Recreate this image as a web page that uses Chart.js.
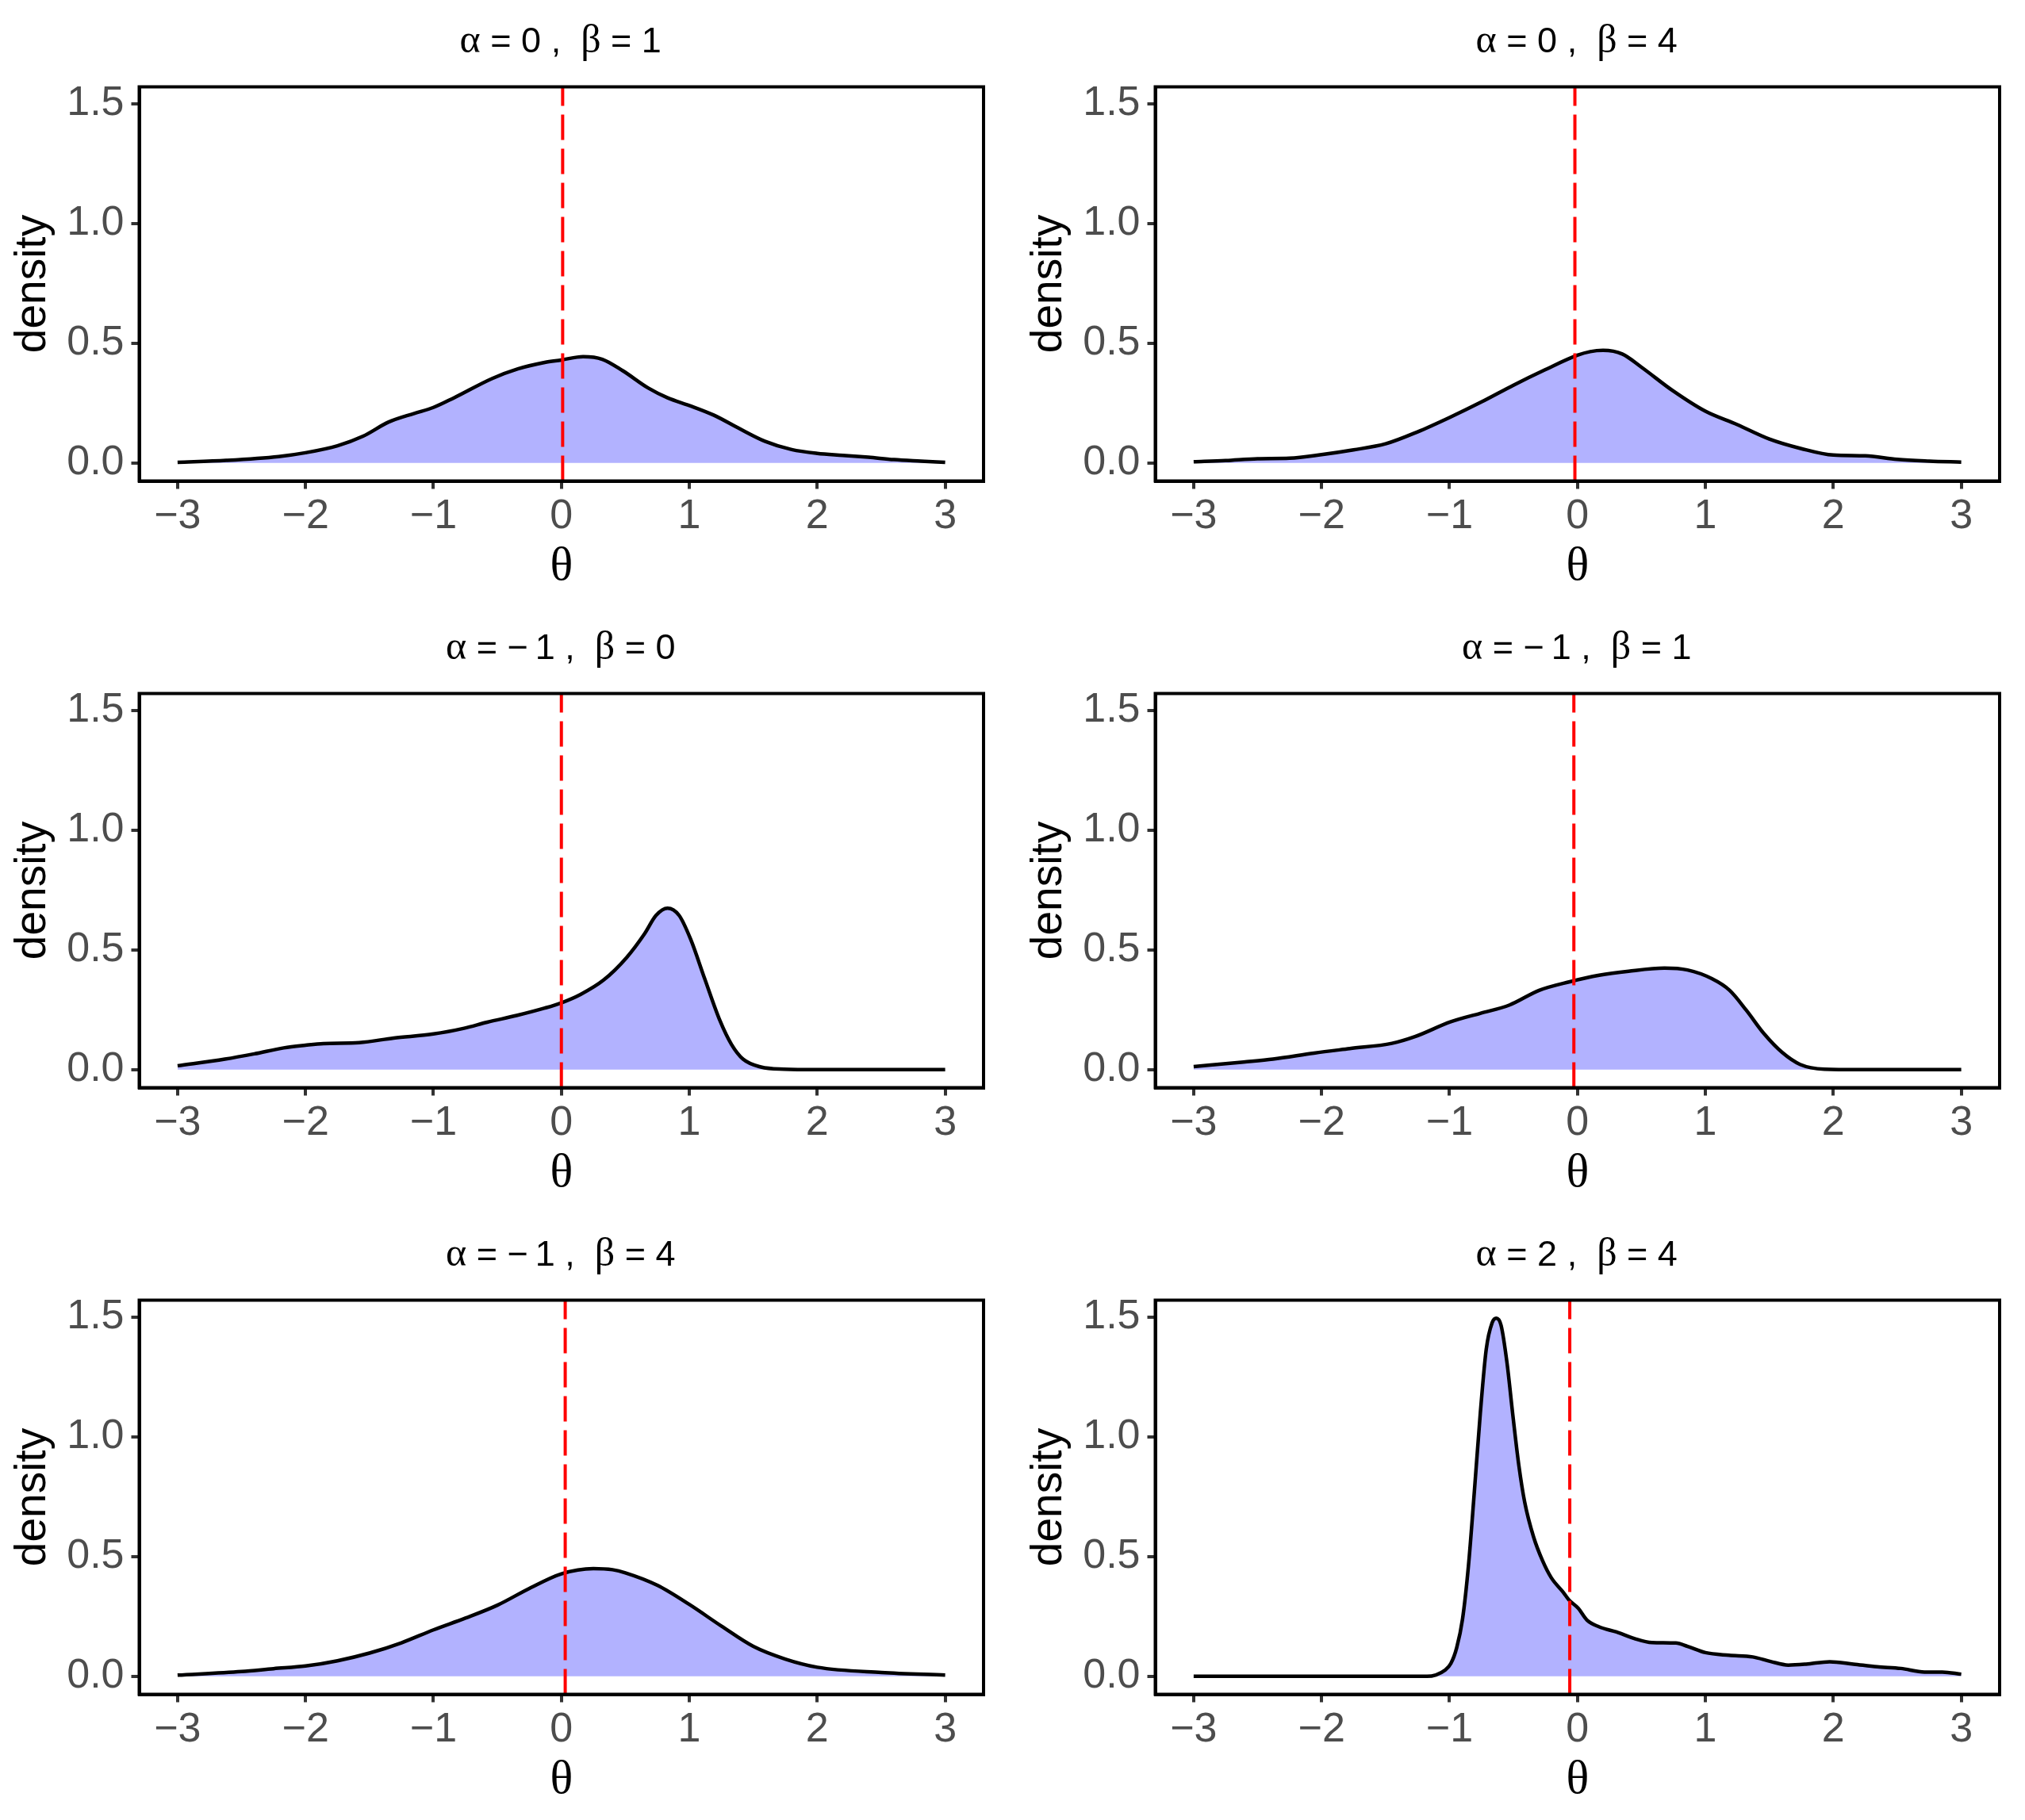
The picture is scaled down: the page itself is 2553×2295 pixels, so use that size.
<!DOCTYPE html>
<html><head><meta charset="utf-8">
<script src="https://cdn.jsdelivr.net/npm/chart.js@4.4.1/dist/chart.umd.min.js"></script>
<style>
html,body{margin:0;padding:0;background:#fff;}
body{width:2553px;height:2295px;position:relative;overflow:hidden;}
.cell{position:absolute;width:1272px;height:765px;}
</style></head><body>
<script>
// ---- tick values / labels ----
const xTicks = [-3, -2, -1, 0, 1, 2, 3];
const xTickLabels = ['\u22123', '\u22122', '\u22121', '0', '1', '2', '3'];
const yTicks = [0, 0.5, 1, 1.5];
const yTickLabels = ['0.0', '0.5', '1.0', '1.5'];

// ---- panel parameters ----
const alphaValues = [0, 0, -1, -1, -1, 2];
const betaValues  = [1, 4, 0, 1, 4, 4];
const meanTheta   = [0.01, -0.02, 0.0, -0.028, 0.03, -0.06];

// ---- density curves ----
const theta1 = [-3,-2.62,-2.21,-2.0,-1.75,-1.55,-1.35,-1.15,-1.0,-0.84,-0.54,-0.34,-0.13,0,0.17,0.32,0.48,0.68,0.83,1.0,1.19,1.39,1.59,1.8,2.0,2.2,2.4,2.6,2.81,3];
const density1 = [0.003,0.011,0.027,0.043,0.072,0.112,0.171,0.207,0.232,0.272,0.353,0.393,0.42,0.43,0.444,0.433,0.385,0.3125,0.272,0.24,0.2,0.144,0.091,0.056,0.04,0.032,0.024,0.014,0.008,0.003];

const theta2 = [-3,-2.75,-2.5,-2.25,-2,-1.75,-1.5,-1.25,-1,-0.75,-0.5,-0.25,0,0.1,0.2,0.35,0.5,0.75,1,1.25,1.5,1.75,2,2.25,2.5,2.75,3];
const density2 = [0.005,0.01,0.018,0.02,0.035,0.055,0.08,0.13,0.19,0.255,0.325,0.39,0.45,0.465,0.47,0.455,0.40,0.30,0.216,0.16,0.10,0.06,0.033,0.03,0.015,0.008,0.004];

const theta3 = [-3,-2.63,-2.40,-2.17,-2.0,-1.86,-1.58,-1.31,-1.0,-0.76,-0.58,-0.35,-0.13,0,0.15,0.33,0.51,0.65,0.74,0.83,0.92,1.01,1.12,1.24,1.33,1.42,1.56,1.74,2,2.5,3];
const density3 = [0.0165,0.044,0.066,0.091,0.102,0.109,0.113,0.132,0.149,0.173,0.198,0.226,0.257,0.279,0.314,0.374,0.468,0.567,0.644,0.674,0.644,0.545,0.38,0.204,0.105,0.044,0.011,0.002,0,0,0];

const theta4 = [-3,-2.61,-2.38,-2.06,-1.78,-1.45,-1.27,-0.99,-0.76,-0.53,-0.30,-0.06,0.17,0.40,0.68,0.86,1.05,1.19,1.32,1.46,1.60,1.74,1.93,2.2,2.6,3];
const density4 = [0.013,0.032,0.044,0.069,0.088,0.110,0.138,0.2,0.235,0.27,0.331,0.367,0.394,0.411,0.424,0.416,0.38,0.331,0.248,0.149,0.072,0.022,0.002,0,0,0];

const theta5 = [-3,-2.5,-2.25,-2,-1.75,-1.5,-1.25,-1,-0.75,-0.5,-0.25,0,0.25,0.4,0.5,0.75,1,1.25,1.5,1.75,2,2.5,3];
const density5 = [0.005,0.02,0.032,0.043,0.065,0.097,0.14,0.194,0.243,0.297,0.367,0.428,0.45,0.445,0.432,0.38,0.3,0.21,0.125,0.072,0.038,0.016,0.005];

const theta6 = [-3,-2,-1.3,-1.176,-1.106,-1.037,-0.99,-0.944,-0.898,-0.852,-0.806,-0.759,-0.713,-0.667,-0.634,-0.597,-0.551,-0.505,-0.458,-0.412,-0.343,-0.273,-0.204,-0.111,-0.065,0.005,0.074,0.167,0.306,0.444,0.583,0.769,0.861,1.0,1.185,1.37,1.51,1.648,1.787,1.972,2.157,2.343,2.528,2.713,2.852,3];
const density6 = [0,0,0,0,0.006,0.025,0.053,0.119,0.24,0.461,0.77,1.10,1.365,1.476,1.495,1.465,1.31,1.09,0.88,0.726,0.582,0.483,0.411,0.351,0.318,0.285,0.235,0.207,0.185,0.158,0.141,0.139,0.125,0.099,0.088,0.081,0.062,0.047,0.051,0.061,0.051,0.040,0.033,0.018,0.018,0.009];

const thetaSets = [theta1, theta2, theta3, theta4, theta5, theta6];
const densitySets = [density1, density2, density3, density4, density5, density6];

// ---- fonts / styling ----
const SANS = '"Liberation Sans", Arial, sans-serif';
const SERIF = '"Liberation Serif", "Times New Roman", serif';
const Y_MIN = -0.075, Y_MAX = 1.57;
const X_MIN = -3.3, X_MAX = 3.3;

function fmtNum(v) {
  return v < 0 ? '\u2212\u2009' + Math.abs(v) : String(v);
}

const panelTitlePlugin = {
  id: 'panelTitle',
  afterDraw(chart, args, opts) {
    const ctx = chart.ctx;
    const segs = opts.segments || [];
    ctx.save();
    ctx.fillStyle = '#000';
    ctx.textBaseline = 'alphabetic';
    ctx.textAlign = 'left';
    let total = 0;
    const widths = segs.map(s => {
      ctx.font = s.font;
      const w = ctx.measureText(s.text).width;
      total += w;
      return w;
    });
    const ca = chart.chartArea;
    let x = (ca.left + ca.right) / 2 - 1 - total / 2;
    segs.forEach((s, i) => {
      ctx.font = s.font;
      ctx.fillText(s.text, x, opts.baseline);
      x += widths[i];
    });
    ctx.restore();
  }
};

const frameBoxPlugin = {
  id: 'frameBox',
  afterDraw(chart) {
    const {ctx, chartArea: ca} = chart;
    ctx.save();
    ctx.strokeStyle = '#000';
    ctx.lineWidth = 4;
    ctx.strokeRect(ca.left, ca.top, ca.right - ca.left, ca.bottom - ca.top);
    ctx.restore();
  }
};

function makePanel(i) {
  const div = document.createElement('div');
  div.className = 'cell';
  div.style.left = (i % 2 ? 1281 : 0) + 'px';
  div.style.top = (Math.floor(i / 2) * 765) + 'px';
  const canvas = document.createElement('canvas');
  div.appendChild(canvas);
  document.body.appendChild(div);

  const th = thetaSets[i], de = densitySets[i];
  const segments = [
    {text: 'α', font: '50px ' + SERIF},
    {text: ' = ' + fmtNum(alphaValues[i]) + ' ,  ', font: '45px ' + SANS},
    {text: 'β', font: '50px ' + SERIF},
    {text: ' = ' + fmtNum(betaValues[i]), font: '45px ' + SANS}
  ];

  new Chart(canvas, {
    type: 'line',
    data: {
      datasets: [
        {
          data: th.map((x, k) => ({x: x, y: de[k]})),
          borderColor: '#000000',
          borderWidth: 4.5,
          backgroundColor: 'rgba(0,0,255,0.3)',
          fill: 'origin',
          pointRadius: 0,
          cubicInterpolationMode: 'monotone',
          order: 1
        },
        {
          data: [{x: meanTheta[i], y: Y_MIN}, {x: meanTheta[i], y: Y_MAX}],
          borderColor: '#FF0000',
          borderWidth: 4,
          borderDash: [32, 11],
          pointRadius: 0,
          fill: false,
          tension: 0,
          order: 0
        }
      ]
    },
    options: {
      responsive: true,
      maintainAspectRatio: false,
      animation: false,
      devicePixelRatio: 1,
      events: [],
      layout: {padding: {top: 109.5, left: 0, right: 32, bottom: 0}},
      plugins: {
        legend: {display: false},
        tooltip: {enabled: false},
        title: {display: false},
        panelTitle: {segments: segments, baseline: 66}
      },
      scales: {
        x: {
          type: 'linear',
          min: X_MIN, max: X_MAX,
          afterBuildTicks: s => { s.ticks = xTicks.map(v => ({value: v})); },
          afterFit: s => { s.height = 158.5; },
          ticks: {
            callback: (v, idx) => xTickLabels[idx],
            font: {family: SANS, size: 52, lineHeight: 1.2},
            color: '#4D4D4D',
            padding: 4,
            maxRotation: 0,
            autoSkip: false
          },
          grid: {drawOnChartArea: false, drawTicks: true, tickLength: 10, tickColor: '#333333', tickWidth: 4, lineWidth: 4, color: '#333333'},
          border: {display: true, color: '#000', width: 4},
          title: {display: true, text: 'θ', font: {family: SERIF, size: 60, lineHeight: 1.2}, color: '#000', padding: {top: 0, bottom: 14}}
        },
        y: {
          type: 'linear',
          min: Y_MIN, max: Y_MAX,
          afterBuildTicks: s => { s.ticks = yTicks.map(v => ({value: v})); },
          afterFit: s => { s.width = 175.5; },
          ticks: {
            callback: (v, idx) => yTickLabels[idx],
            font: {family: SANS, size: 52, lineHeight: 1.2},
            color: '#4D4D4D',
            padding: 9
          },
          grid: {drawOnChartArea: false, drawTicks: true, tickLength: 10, tickColor: '#333333', tickWidth: 4, lineWidth: 4, color: '#333333'},
          border: {display: true, color: '#000', width: 4},
          title: {display: true, text: 'density', font: {family: SANS, size: 55, lineHeight: 1.2}, color: '#000', padding: {top: 9, bottom: 0}}
        }
      }
    },
    plugins: [panelTitlePlugin, frameBoxPlugin]
  });
}

for (let i = 0; i < 6; i++) makePanel(i);
</script>
</body></html>
